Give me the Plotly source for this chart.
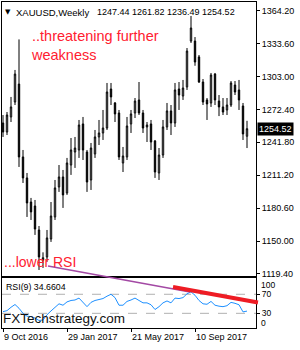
import plotly.graph_objects as go

# ---------------- data ----------------
open_ = [1259.8, 1251.4, 1265.4, 1279.3, 1296.0, 1228.2, 1208.7, 1186.3, 1182.6, 1160.3,
         1132.0, 1135.2, 1151.9, 1172.4, 1200.3, 1209.6, 1194.7, 1220.7, 1232.8, 1234.7,
         1258.9, 1232.8, 1206.8, 1231.0, 1246.8, 1250.5, 1255.1, 1291.4, 1278.4, 1269.1,
         1222.6, 1228.2, 1258.9, 1269.1, 1281.2, 1269.1, 1256.1, 1258.9, 1243.1, 1213.3,
         1230.0, 1256.1, 1271.0, 1259.8, 1291.4, 1284.9, 1293.3, 1336.0, 1336.0, 1321.2,
         1297.9, 1281.2, 1278.4, 1305.3, 1280.2, 1274.7, 1271.9, 1276.5, 1295.1, 1290.5,
         1275.6, 1247.44]
high = [1267.2, 1270.0, 1284.0, 1309.1, 1337.5, 1234.7, 1213.3, 1190.1, 1188.2, 1164.0,
        1139.5, 1160.3, 1186.3, 1206.8, 1220.7, 1216.1, 1227.3, 1245.8, 1246.8, 1262.6,
        1265.4, 1234.7, 1241.2, 1253.3, 1262.6, 1271.9, 1297.0, 1297.0, 1279.3, 1271.9,
        1237.5, 1265.4, 1271.9, 1283.0, 1297.9, 1271.9, 1260.7, 1262.6, 1244.0, 1236.5,
        1262.6, 1278.4, 1276.5, 1297.0, 1297.9, 1299.8, 1329.5, 1359.3, 1339.7, 1323.0,
        1300.7, 1283.0, 1306.3, 1306.3, 1285.8, 1283.0, 1283.0, 1298.8, 1298.8, 1299.8,
        1278.4, 1261.82]
low = [1246.8, 1248.6, 1260.7, 1276.5, 1218.9, 1204.0, 1172.4, 1169.6, 1155.7, 1123.1,
       1125.0, 1130.6, 1149.2, 1169.6, 1195.7, 1180.8, 1192.9, 1211.5, 1218.0, 1227.3,
       1225.4, 1195.7, 1197.5, 1227.3, 1239.3, 1244.0, 1253.3, 1276.5, 1260.7, 1225.4,
       1214.2, 1225.4, 1250.5, 1264.4, 1267.2, 1250.5, 1242.1, 1234.7, 1208.7, 1206.8,
       1227.3, 1253.3, 1248.6, 1256.1, 1271.9, 1281.2, 1290.5, 1334.2, 1313.0, 1297.0,
       1276.5, 1262.6, 1274.7, 1276.5, 1266.2, 1267.2, 1267.2, 1274.7, 1285.8, 1271.9,
       1244.0, 1236.49]
close = [1251.4, 1267.2, 1274.7, 1305.3, 1228.2, 1208.7, 1185.4, 1177.1, 1161.2, 1135.2,
         1134.5, 1152.9, 1173.3, 1199.4, 1209.6, 1192.9, 1222.6, 1234.7, 1236.5, 1257.9,
         1234.7, 1204.9, 1236.5, 1246.8, 1250.5, 1255.1, 1288.6, 1284.0, 1268.2, 1228.2,
         1229.1, 1257.0, 1268.2, 1280.2, 1269.1, 1255.1, 1257.9, 1242.1, 1214.2, 1230.0,
         1256.1, 1271.0, 1259.8, 1290.5, 1285.8, 1292.3, 1326.7, 1348.1, 1316.5, 1297.9,
         1279.3, 1277.5, 1304.4, 1281.2, 1274.7, 1270.0, 1276.5, 1297.0, 1288.6, 1281.2,
         1249.6, 1254.52]
rsi = [33.5, 35.6, 42.7, 48.5, 40.6, 30, 24, 23, 20, 15,
       16, 27, 35, 42, 50, 47, 54, 57, 58, 62,
       52, 44, 53, 57, 59, 61, 66, 70, 63, 47,
       47, 55, 58, 62, 57, 52, 52, 48, 38, 44,
       52, 56, 52, 62, 61, 63, 71, 75, 68, 57,
       50, 49, 55, 47, 45, 44, 46, 53, 51, 48,
       33, 34.6604]
price_ticks = [1364.20, 1333.60, 1303.00, 1272.40, 1241.80, 1211.20, 1180.60, 1150.00, 1119.40]
date_tick_idx = [0, 16, 32, 48]
date_tick_labels = ["9 Oct 2016", "29 Jan 2017", "21 May 2017", "10 Sep 2017"]
rsi_levels = [30, 70]
rsi_tick_labels = ["100", "70", "30", "0"]
symbol = "XAUUSD,Weekly"

idx = list(range(len(close)))

# ---------------- geometry helpers (pixel -> paper) ----------------
L, R, T, B = 2, 256, 2, 328
W, H = 300, 350
def px(x):
    return (x - L) / (R - L)
def py(y):
    return (B - y) / (B - T)

FONT = "Liberation Sans, Arial, sans-serif"

fig = go.Figure()
fig.add_trace(go.Candlestick(
    x=idx, open=open_, high=high, low=low, close=close,
    xaxis="x2", yaxis="y",
    increasing=dict(line=dict(color="black", width=1), fillcolor="white"),
    decreasing=dict(line=dict(color="black", width=1), fillcolor="black"),
    whiskerwidth=0, hoverinfo="skip", showlegend=False,
))
fig.add_trace(go.Scatter(
    x=idx, y=rsi, xaxis="x", yaxis="y2", mode="lines",
    line=dict(color="#1E90FF", width=1), hoverinfo="skip", showlegend=False,
))

xr = [-0.25, len(close) + 1.25]
main_bottom = py(276)
rsi_top = py(278)

shapes = []
for lv in rsi_levels:
    shapes.append(dict(type="line", xref="x", yref="y2", x0=xr[0], x1=xr[1], y0=lv, y1=lv,
                       line=dict(color="#b0b0b0", width=1, dash="dash"), layer="below"))
# purple trendline drawn across panels
shapes.append(dict(type="line", xref="paper", yref="paper",
                   x0=px(48), y0=py(266), x1=px(190), y1=py(292),
                   line=dict(color="#a349a4", width=1.5)))
# red RSI trendline
shapes.append(dict(type="line", xref="paper", yref="paper",
                   x0=px(173), y0=py(287), x1=px(258), y1=py(302.5),
                   line=dict(color="#ee1c24", width=4)))

last = len(close) - 1
ohlc_txt = f"{open_[last]:.2f} {high[last]:.2f} {low[last]:.2f} {close[last]:.2f}"

annotations = [
    dict(xref="paper", yref="paper", x=px(3), y=py(12), text="▼", showarrow=False,
         xanchor="left", yanchor="middle", font=dict(family="DejaVu Sans", size=7, color="black")),
    dict(xref="paper", yref="paper", x=px(14), y=py(12), text=symbol, showarrow=False,
         xanchor="left", yanchor="middle", font=dict(family=FONT, size=9.5, color="black")),
    dict(xref="paper", yref="paper", x=px(95), y=py(12), text=ohlc_txt, showarrow=False,
         xanchor="left", yanchor="middle", font=dict(family=FONT, size=9, color="black")),
    dict(xref="paper", yref="paper", x=px(29), y=py(26), text="..threatening further<br>weakness",
         showarrow=False, xanchor="left", yanchor="top", align="left",
         font=dict(family=FONT, size=14.5, color="#ff2030")),
    dict(xref="paper", yref="paper", x=px(2), y=py(262), text="...lower RSI", showarrow=False,
         xanchor="left", yanchor="middle", font=dict(family=FONT, size=14, color="#ff2030")),
    dict(xref="paper", yref="paper", x=px(4), y=py(287), text=f"RSI(9) {rsi[-1]:.4f}",
         showarrow=False, xanchor="left", yanchor="middle", font=dict(family=FONT, size=8.8, color="black")),
    dict(xref="paper", yref="paper", x=px(1), y=py(318), text="FXTechstrategy.com", showarrow=False,
         xanchor="left", yanchor="middle", font=dict(family=FONT, size=13.5, color="#111111")),
    dict(xref="paper", yref="y", x=1.0, y=close[last], text=f"{close[last]:.2f}", showarrow=False,
         xanchor="left", yanchor="middle", bgcolor="black", borderpad=1, xshift=1,
         font=dict(family=FONT, size=9, color="white")),
    dict(xref="paper", yref="y2", x=px(259), y=100, text=rsi_tick_labels[0], showarrow=False,
         xanchor="left", yanchor="middle", yshift=-5, font=dict(family=FONT, size=8.5, color="black")),
    dict(xref="paper", yref="y2", x=px(259), y=0, text=rsi_tick_labels[3], showarrow=False,
         xanchor="left", yanchor="middle", yshift=5, font=dict(family=FONT, size=8.5, color="black")),
]

fig.update_layout(
    width=W, height=H,
    margin=dict(l=L, r=W - R, t=T, b=H - B, autoexpand=False),
    paper_bgcolor="white", plot_bgcolor="white",
    boxgap=0.5,
    font=dict(family=FONT, size=9, color="black"),
    shapes=shapes, annotations=annotations,
    xaxis=dict(domain=[0, 1], anchor="y2", range=xr, showgrid=False, zeroline=False,
               showline=True, linecolor="black", linewidth=1, mirror=True, automargin=False,
               tickvals=date_tick_idx, ticktext=date_tick_labels, ticks="outside", tickangle=0,
               ticklen=3, tickcolor="black", ticklabelposition="outside right",
               tickfont=dict(family=FONT, size=9), rangeslider=dict(visible=False)),
    xaxis2=dict(domain=[0, 1], anchor="y", matches="x", range=xr, showgrid=False, zeroline=False,
                showline=True, linecolor="black", linewidth=1, mirror=True, automargin=False,
                showticklabels=False, ticks="", rangeslider=dict(visible=False)),
    yaxis=dict(domain=[main_bottom, 1], anchor="x2", side="right", range=[1117.5, 1372.3],
               showgrid=False, zeroline=False, showline=True, linecolor="black", linewidth=1,
               mirror=True, automargin=False, tickvals=price_ticks,
               ticktext=[f"{v:.2f}" for v in price_ticks],
               ticks="outside", ticklen=3, tickcolor="black", tickfont=dict(family=FONT, size=9)),
    yaxis2=dict(domain=[0, rsi_top], anchor="x", side="right", range=[-0.84, 104.2],
                showgrid=False, zeroline=False, showline=True, linecolor="black", linewidth=1,
                mirror=True, automargin=False, tickvals=[70, 30], ticktext=rsi_tick_labels[1:3],
                ticks="outside", ticklen=3, tickcolor="black", tickfont=dict(family=FONT, size=8.5)),
)

fig.write_html("out.html")
